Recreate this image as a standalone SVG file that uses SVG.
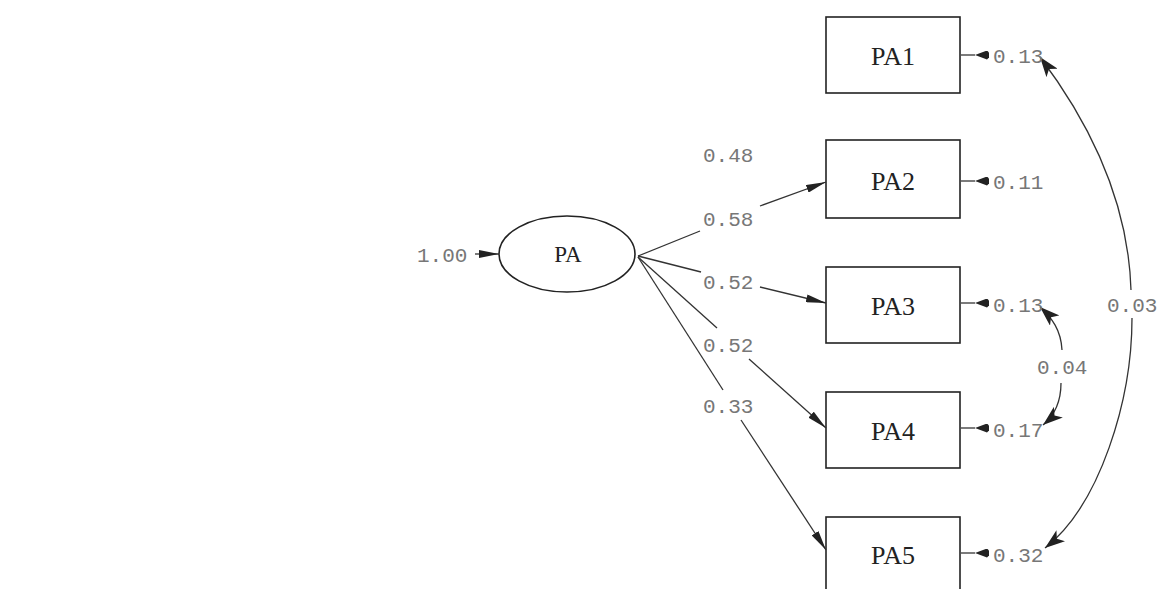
<svg xmlns="http://www.w3.org/2000/svg" width="1158" height="589" viewBox="0 0 1158 589">
<style>
  .box { fill: #ffffff; stroke: #222222; stroke-width: 1.6; }
  .node-label { font-family: "Liberation Serif", "DejaVu Serif", serif; font-size: 26px; fill: #222222; text-anchor: middle; }
  .num { font-family: "Liberation Mono", "DejaVu Sans Mono", monospace; font-size: 21px; fill: #777777; }
  .edge { fill: none; stroke: #333333; stroke-width: 1.3; }
</style>
<defs>
  <marker id="arrow" markerUnits="userSpaceOnUse" viewBox="0 0 20 8" refX="20" refY="4" markerWidth="20" markerHeight="8" orient="auto">
    <path d="M0,0 L20,4 L0,8 Z" fill="#222222"/>
  </marker>
  <marker id="errhead" markerUnits="userSpaceOnUse" viewBox="0 0 14 9" refX="0" refY="4.5" markerWidth="14" markerHeight="9" orient="auto">
    <path d="M0,4.5 L12,0 L14,2 L14,7 L12,9 Z" fill="#222222"/>
  </marker>
  <marker id="covhead" markerUnits="userSpaceOnUse" viewBox="0 0 20 14" refX="20" refY="7" markerWidth="20" markerHeight="14" orient="auto-start-reverse">
    <path d="M0,0 L20,7 L0,14 L5,7 Z" fill="#222222"/>
  </marker>
</defs>

<g id="PA">
  <ellipse cx="567" cy="254" rx="68" ry="38" fill="#ffffff" stroke="#222222" stroke-width="1.6"/>
  <text class="node-label" x="568" y="262" style="font-size:23px">PA</text>
</g>
<g id="PA1">
  <rect class="box" x="826" y="17" width="134" height="76"/>
  <text class="node-label" x="893" y="65">PA1</text>
</g>
<g id="PA2">
  <rect class="box" x="826" y="140" width="134" height="78"/>
  <text class="node-label" x="893" y="190">PA2</text>
</g>
<g id="PA3">
  <rect class="box" x="826" y="267" width="134" height="76"/>
  <text class="node-label" x="893" y="315">PA3</text>
</g>
<g id="PA4">
  <rect class="box" x="826" y="392" width="134" height="76"/>
  <text class="node-label" x="893" y="440">PA4</text>
</g>
<g id="PA5">
  <rect class="box" x="826" y="517" width="134" height="76"/>
  <text class="node-label" x="893" y="564">PA5</text>
</g>

<g id="connectors">
  <path class="edge" d="M475,254 L499,254" marker-end="url(#arrow)"/>
  <path class="edge" d="M638,256 L700,231"/>
  <path class="edge" d="M760,206 L826,182" marker-end="url(#arrow)"/>
  <path class="edge" d="M638,256 L701,272"/>
  <path class="edge" d="M760,287 L826,303" marker-end="url(#arrow)"/>
  <path class="edge" d="M638,257 L717,328"/>
  <path class="edge" d="M749,359 L826,428" marker-end="url(#arrow)"/>
  <path class="edge" d="M638,257 L723,390"/>
  <path class="edge" d="M741,420 L826,550" marker-end="url(#arrow)"/>
  <path class="edge" d="M961,55 L975,55" marker-end="url(#errhead)"/>
  <path class="edge" d="M961,181 L975,181" marker-end="url(#errhead)"/>
  <path class="edge" d="M961,303 L975,303" marker-end="url(#errhead)"/>
  <path class="edge" d="M961,428 L975,428" marker-end="url(#errhead)"/>
  <path class="edge" d="M961,553 L975,553" marker-end="url(#errhead)"/>
  <path class="edge" d="M1040,57 C1080,110 1128,190 1131,290" marker-start="url(#covhead)"/>
  <path class="edge" d="M1132,318 C1132,400 1100,505 1045,548" marker-end="url(#covhead)"/>
  <path class="edge" d="M1040,307 C1052,318 1061,330 1062,350" marker-start="url(#covhead)"/>
  <path class="edge" d="M1061,383 C1061,400 1055,415 1043,425" marker-end="url(#covhead)"/>
</g>

<g id="labels">
  <text class="num" x="417" y="262">1.00</text>
  <text class="num" x="703" y="162">0.48</text>
  <text class="num" x="703" y="226">0.58</text>
  <text class="num" x="703" y="289">0.52</text>
  <text class="num" x="703" y="352">0.52</text>
  <text class="num" x="703" y="413">0.33</text>
  <text class="num" x="993" y="63">0.13</text>
  <text class="num" x="993" y="189">0.11</text>
  <text class="num" x="993" y="312">0.13</text>
  <text class="num" x="993" y="437">0.17</text>
  <text class="num" x="993" y="562">0.32</text>
  <text class="num" x="1107" y="312">0.03</text>
  <text class="num" x="1037" y="374">0.04</text>
</g>
</svg>
